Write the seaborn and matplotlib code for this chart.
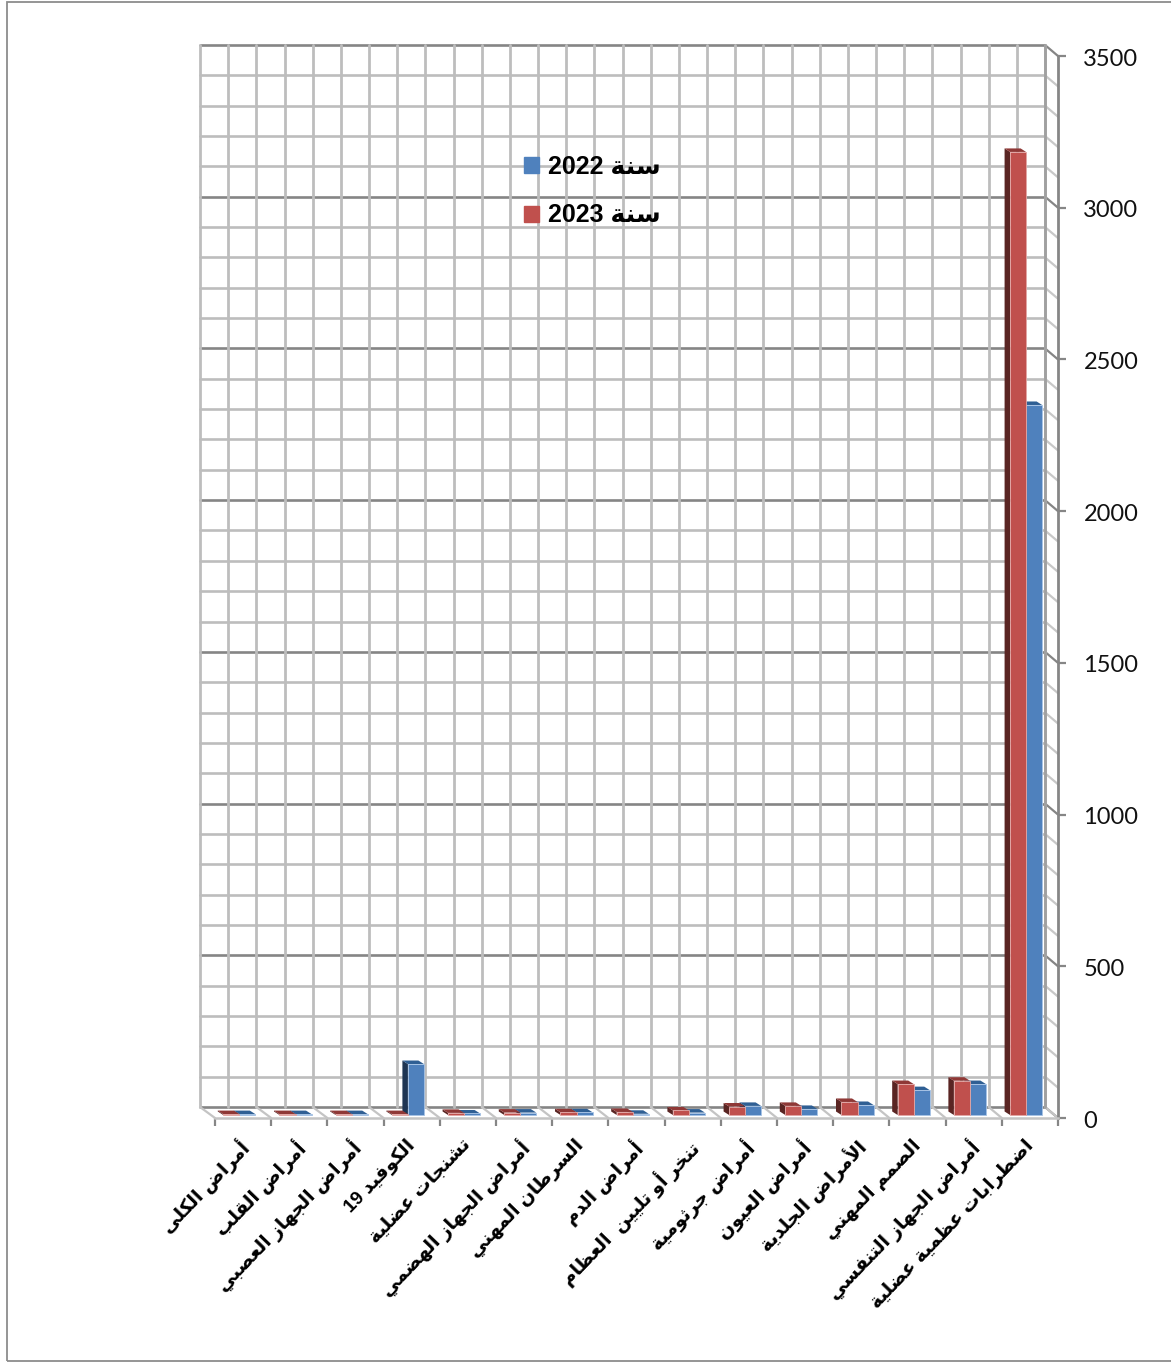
import unicodedata

import numpy as np
import pandas as pd
import seaborn as sns
from matplotlib import pyplot as plt
from matplotlib import transforms
from matplotlib.font_manager import FontProperties
from matplotlib.patches import Patch, Polygon, Rectangle

categories = [
    "أمراض الكلى", "أمراض القلب", "أمراض الجهاز العصبي", "الكوفيد 19",
    "تشنجات عضلية", "أمراض الجهاز الهضمي", "السرطان المهني", "أمراض الدم",
    "تنخر أو تليين  العظام", "أمراض جرثومية", "أمراض العيون", "الأمراض الجلدية",
    "الصمم المهني", "أمراض الجهاز التنفسي", "اضطرابات عظمية عضلية",
]
values_2023 = [3, 3, 3, 3, 7, 8, 9, 10, 15, 28, 30, 43, 102, 113, 3174]
values_2022 = [3, 3, 3, 168, 5, 8, 9, 4, 8, 30, 20, 33, 82, 102, 2340]
series_names = ["سنة 2022", "سنة 2023"]
y_ticks = [0, 500, 1000, 1500, 2000, 2500, 3000, 3500]

RED, RED_SIDE, RED_TOP, RED_EDGE = "#C0504D", "#5A2523", "#8F3836", "#E2A6A4"
BLUE, BLUE_SIDE, BLUE_TOP, BLUE_EDGE = "#4F81BD", "#1E3553", "#2F5F94", "#A6C3E6"

NO_JOIN_AFTER = "اأإآدذرزوؤةىء"
LAM_ALEF = {"ا": "ALEF", "أ": "ALEF WITH HAMZA ABOVE", "إ": "ALEF WITH HAMZA BELOW", "آ": "ALEF WITH MADDA ABOVE"}


def shape_word(word):
    # matplotlib does no arabic shaping, so pick the presentation forms here
    out = []
    joined = False
    i = 0
    while i < len(word):
        ch = word[i]
        if ch == "ل" and i + 1 < len(word) and word[i + 1] in LAM_ALEF:
            form = "FINAL" if joined else "ISOLATED"
            out.append(unicodedata.lookup(f"ARABIC LIGATURE LAM WITH {LAM_ALEF[word[i + 1]]} {form} FORM"))
            joined = False
            i += 2
            continue
        joins_next = ch not in NO_JOIN_AFTER and i + 1 < len(word)
        form = {(False, False): "ISOLATED", (True, False): "FINAL",
                (False, True): "INITIAL", (True, True): "MEDIAL"}[(joined, joins_next)]
        out.append(unicodedata.lookup(f"{unicodedata.name(ch)} {form} FORM"))
        joined = joins_next
        i += 1
    return "".join(reversed(out))


def visual(text):
    words = [w if (not w or w.isascii()) else shape_word(w) for w in text.split(" ")]
    return " ".join(reversed(words))


def main():
    sns.set_theme(style="white")
    plt.rcParams["font.family"] = ["Lato", "DejaVu Sans"]

    W, H = 1171, 1366
    fig = plt.figure(figsize=(W / 100, H / 100), dpi=100)
    fig.add_artist(Rectangle((7 / W, 1 - 1361 / H), 1.2, 1359 / H, transform=fig.transFigure,
                             fill=False, edgecolor="#8c8c8c", linewidth=1.3))

    # axes = front plane of the fake 3d box
    ax = fig.add_axes([215 / W, 1 - 1118 / H, 843 / W, 1062 / H])

    df = pd.DataFrame({
        "category": categories * 2,
        "value": values_2023 + values_2022,
        "year": ["2023"] * 15 + ["2022"] * 15,
    })
    sns.barplot(df, x="category", y="value", hue="year", hue_order=["2023", "2022"],
                palette=[RED, BLUE], saturation=1, width=0.57, gap=0, legend=False,
                ax=ax, linewidth=0)
    ax.set_xlim(-0.5, 14.5)
    ax.set_ylim(0, 3500)
    ax.set(xlabel="", ylabel="")

    px_x = 15 / 843  # one px in x data units
    px_y = 3500 / 1062
    depth_x, depth_y = 5.5 * px_x, 3.5 * px_y
    base = 3 * px_y

    # back wall, floor and side wall
    back_l, back_r = -0.5 - 15 * px_x, 14.5 - 13 * px_x
    back_dy = 11 * px_y
    grid_minor = "#BDBDBD"
    grid_major = "#858585"
    for v in range(0, 3501, 100):
        major = v % 500 == 0
        c = grid_major if major else grid_minor
        ax.plot([back_l, back_r], [v + back_dy] * 2, color=c, lw=1.9, zorder=1, clip_on=False)
        ax.plot([back_r, 14.5], [v + back_dy, v], color=c if major else "#C8C8C8", lw=1.6, zorder=1, clip_on=False)
    for x in np.linspace(back_l, back_r, 31):
        ax.plot([x, x], [back_dy, 3500 + back_dy], color=grid_minor, lw=2.0, zorder=1, clip_on=False)
    for x0, x1 in zip(np.linspace(back_l, back_r, 16), np.arange(16) - 0.5):
        ax.plot([x0, x1], [back_dy, 0], color="#C4C4C4", lw=1.6, zorder=1, clip_on=False)
    ax.plot([back_r, back_r], [back_dy, 3500 + back_dy], color="#A0A0A0", lw=2.0, zorder=1, clip_on=False)

    # turn the flat seaborn bars into columns
    for n, bar in enumerate(ax.patches):
        is_red = n < 15
        bar.set_x(bar.get_x() - 3.8 * px_x)
        bar.set_y(base)
        bar.set_zorder(6 if is_red else 4)
        bar.set_clip_on(False)
        bar.set_edgecolor(RED_EDGE if is_red else BLUE_EDGE)
        bar.set_linewidth(0.6)
        x, w, h = bar.get_x(), bar.get_width(), bar.get_height() + base
        side = RED_SIDE if is_red else BLUE_SIDE
        top = RED_TOP if is_red else BLUE_TOP
        z = 5 if is_red else 3
        ax.add_patch(Polygon([(x, base), (x, h), (x - depth_x, h + depth_y), (x - depth_x, base + depth_y)],
                             facecolor=side, edgecolor="none", zorder=z, clip_on=False))
        ax.add_patch(Polygon([(x, h), (x + w, h), (x + w - depth_x, h + depth_y), (x - depth_x, h + depth_y)],
                             facecolor=top, edgecolor="none", zorder=z, clip_on=False))

    # axis lines and ticks
    for name in ("top", "left"):
        ax.spines[name].set_visible(False)
    ax.spines["bottom"].set(color="#C4C4C4", linewidth=1.8)
    ax.spines["right"].set(color="#868686", linewidth=2.0)
    ax.patch.set_alpha(0)
    ax.yaxis.tick_right()
    ax.set_yticks(y_ticks)
    ax.set_yticklabels([str(t) for t in y_ticks], fontsize=17, color="#111111")
    ax.tick_params(axis="y", which="major", right=True, length=5.8, width=1.6, color="#868686", pad=12.5)
    shift_y = transforms.ScaledTranslation(0, -1 / 100, fig.dpi_scale_trans)
    for label in ax.get_yticklabels():
        label.set_transform(label.get_transform() + shift_y)

    ax.set_xticks(np.arange(16) - 0.5, minor=True)
    ax.tick_params(axis="x", which="minor", bottom=True, length=5.8, width=1.6, color="#868686")
    ax.set_xticks(range(15))
    label_font = FontProperties(family=["Liberation Sans", "DejaVu Sans"], weight="bold", size=13.5)
    ax.set_xticklabels([visual(c) for c in categories], rotation=46, ha="right", va="top",
                       rotation_mode="anchor", fontproperties=label_font, color="black")
    ax.tick_params(axis="x", which="major", bottom=False, pad=7)
    shift_x = transforms.ScaledTranslation(-6 / 100, 0, fig.dpi_scale_trans)
    for label in ax.get_xticklabels():
        label.set_transform(label.get_transform() + shift_x)

    handles = [Patch(color=BLUE, label=visual(series_names[0])), Patch(color=RED, label=visual(series_names[1]))]
    leg = ax.legend(handles=handles, loc="upper left",
                    bbox_to_anchor=((501 - 215) / 843, (1118 - 132) / 1062), frameon=False,
                    prop=FontProperties(family=["Liberation Sans", "DejaVu Sans"], weight="bold", size=18),
                    handlelength=0.6, handleheight=0.6, handletextpad=0.38, labelspacing=1.0,
                    labelcolor="black")
    leg.set_zorder(8)

    fig.savefig("out.png", dpi=100)


main()
